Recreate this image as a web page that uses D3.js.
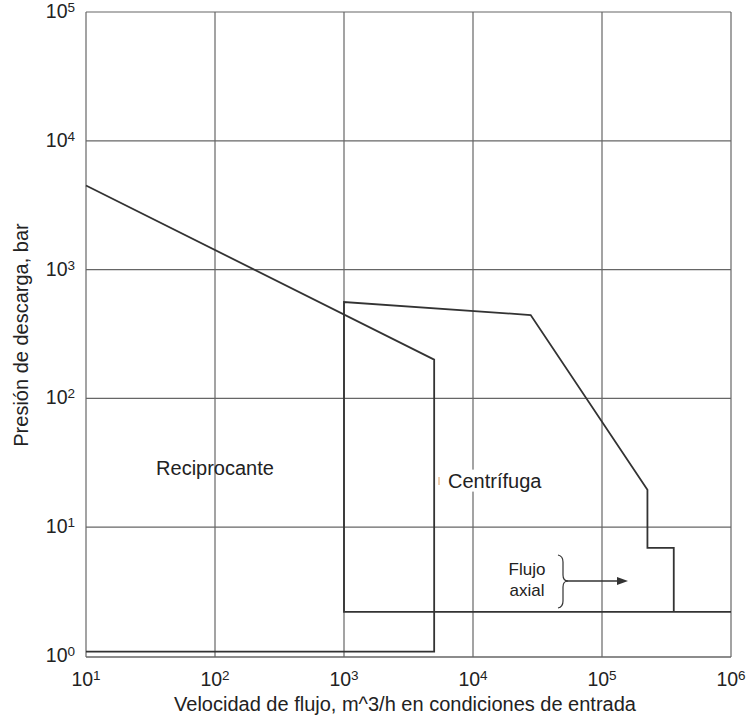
<!DOCTYPE html>
<html>
<head>
<meta charset="utf-8">
<script src="https://cdn.jsdelivr.net/npm/d3@7"></script>
<style>
  body { margin: 0; background: #fff; }
  text { font-family: "Liberation Sans", Arial, sans-serif; fill: #222; }
</style>
</head>
<body>
<div id="chart"></div>
<script>
// decades on each axis
var xTicks = [1, 2, 3, 4, 5, 6],
    yTicks = [0, 1, 2, 3, 4, 5];

// reciprocating region outline
var recipX = [10, 5000, 5000, 10],
    recipY = [4500, 200, 1.08, 1.08];

// centrifugal region outline (with axial-flow step)
var centX = [1e6, 1000, 1000, 28000, 225000, 225000, 360000, 360000],
    centY = [2.2, 2.2, 560, 444, 19.5, 6.9, 6.9, 2.2];

var labels = [
  {t: "Reciprocante", x: 100, y: 29},
  {t: "Centrífuga", x: 4000, y: 23}
];

var width = 750, height = 719;

var svg = d3.select("#chart").append("svg")
  .attr("width", width)
  .attr("height", height);

var x = d3.scaleLog().domain([10, 1e6]).range([86, 731]),
    y = d3.scaleLog().domain([1, 1e5]).range([656, 12]);

var gridCol = "#666";

// grid
svg.append("g").selectAll("line.v")
  .data(xTicks)
  .enter().append("line")
  .attr("x1", function(d){ return x(Math.pow(10, d)); })
  .attr("x2", function(d){ return x(Math.pow(10, d)); })
  .attr("y1", y(1e5))
  .attr("y2", y(1) + 1)
  .attr("stroke", gridCol)
  .attr("stroke-width", 1.2);

svg.append("g").selectAll("line.h")
  .data(yTicks.slice(1))
  .enter().append("line")
  .attr("x1", x(10))
  .attr("x2", x(1e6))
  .attr("y1", function(d){ return y(Math.pow(10, d)); })
  .attr("y2", function(d){ return y(Math.pow(10, d)); })
  .attr("stroke", gridCol)
  .attr("stroke-width", 1.2);

svg.append("line")
  .attr("x1", x(10)).attr("x2", x(1e6))
  .attr("y1", y(1) + 1).attr("y2", y(1) + 1)
  .attr("stroke", gridCol)
  .attr("stroke-width", 1.5);

var line = d3.line()
  .x(function(d){ return x(d[0]); })
  .y(function(d){ return y(d[1]); });

svg.append("path")
  .datum(d3.zip(recipX, recipY))
  .attr("d", line)
  .attr("fill", "none")
  .attr("stroke", "#333")
  .attr("stroke-width", 1.8);

svg.append("path")
  .datum(d3.zip(centX, centY))
  .attr("d", line)
  .attr("fill", "none")
  .attr("stroke", "#333")
  .attr("stroke-width", 1.8);

// tick labels
var xl = svg.append("g").selectAll("text")
  .data(xTicks)
  .enter().append("text")
  .attr("x", function(d){ return x(Math.pow(10, d)); })
  .attr("y", 686)
  .attr("text-anchor", "middle")
  .attr("font-size", 19.5);
xl.append("tspan").text("10");
xl.append("tspan").attr("dy", -6).attr("font-size", 13.5).text(function(d){ return d; });

var yl = svg.append("g").selectAll("text")
  .data(yTicks)
  .enter().append("text")
  .attr("x", 75)
  .attr("y", function(d){ return y(Math.pow(10, d)) + 6; })
  .attr("text-anchor", "end")
  .attr("font-size", 19.5);
yl.append("tspan").text("10");
yl.append("tspan").attr("dy", -6).attr("font-size", 13.5).text(function(d){ return d; });

// axis titles
svg.append("text")
  .attr("x", 405).attr("y", 711)
  .attr("text-anchor", "middle")
  .attr("font-size", 20)
  .text("Velocidad de flujo, m^3/h en condiciones de entrada");

svg.append("text")
  .attr("transform", "translate(28,335) rotate(-90)")
  .attr("text-anchor", "middle")
  .attr("font-size", 20)
  .text("Presión de descarga, bar");

// region labels
svg.append("text")
  .attr("x", x(labels[0].x)).attr("y", y(labels[0].y) + 7)
  .attr("text-anchor", "middle")
  .attr("font-size", 20)
  .text(labels[0].t);

var cg = svg.append("g");
var ct = cg.append("text")
  .attr("x", 448).attr("y", y(labels[1].y) + 7)
  .attr("font-size", 20)
  .text(labels[1].t);
var bb = ct.node().getBBox();
cg.insert("rect", "text")
  .attr("x", bb.x - 2).attr("y", bb.y)
  .attr("width", bb.width + 4).attr("height", bb.height)
  .attr("fill", "#fff");
cg.append("line")
  .attr("x1", 439).attr("x2", 439)
  .attr("y1", 477).attr("y2", 485)
  .attr("stroke", "#e0a060").attr("stroke-width", 1);

// axial flow note
var ax = svg.append("g");
ax.append("text").attr("x", 527).attr("y", 575)
  .attr("text-anchor", "middle").attr("font-size", 17).text("Flujo");
ax.append("text").attr("x", 527).attr("y", 596)
  .attr("text-anchor", "middle").attr("font-size", 17).text("axial");
ax.append("path")
  .attr("d", "M558,555 Q563,556 563,562 L563,575 Q563,581 568,581 Q563,581 563,587 L563,601 Q563,607 558,608")
  .attr("fill", "none").attr("stroke", "#333").attr("stroke-width", 1.2);
ax.append("line")
  .attr("x1", 566).attr("x2", 620)
  .attr("y1", 581).attr("y2", 581)
  .attr("stroke", "#333").attr("stroke-width", 1.3);
ax.append("path")
  .attr("d", "M628,581 L617,577 L617,585 Z")
  .attr("fill", "#333");
</script>
</body>
</html>
